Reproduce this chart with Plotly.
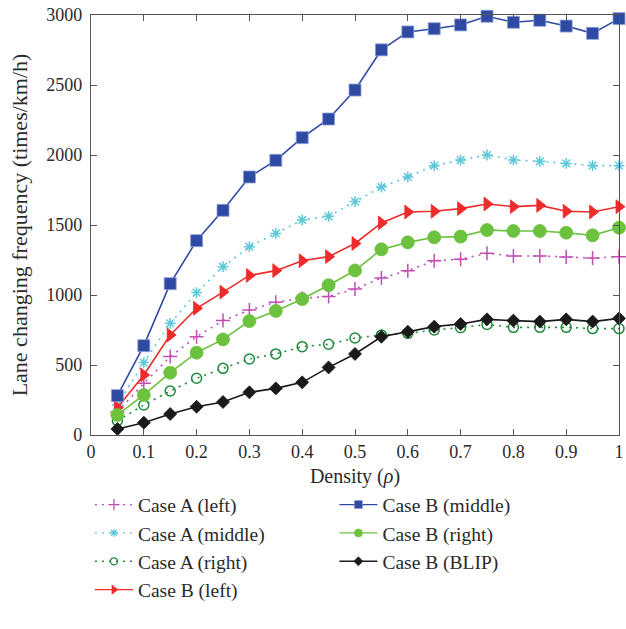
import plotly.graph_objects as go

density = [0.05, 0.1, 0.15, 0.2, 0.25, 0.3, 0.35, 0.4, 0.45, 0.5, 0.55, 0.6, 0.65, 0.7, 0.75, 0.8, 0.85, 0.9, 0.95, 1.0]

a_left = [165, 369, 560, 702, 817, 893, 948, 976, 990, 1043, 1121, 1174, 1245, 1255, 1298, 1279, 1279, 1271, 1264, 1274]
a_middle = [214, 517, 798, 1017, 1202, 1345, 1440, 1536, 1562, 1667, 1771, 1843, 1924, 1964, 2000, 1964, 1955, 1940, 1924, 1924]
a_right = [102, 214, 314, 405, 476, 543, 579, 631, 648, 693, 714, 726, 750, 767, 790, 769, 769, 769, 760, 760]
b_left = [195, 429, 714, 905, 1021, 1140, 1174, 1245, 1274, 1368, 1515, 1593, 1598, 1617, 1650, 1631, 1640, 1598, 1593, 1631]
b_middle = [281, 638, 1081, 1388, 1605, 1843, 1962, 2124, 2257, 2464, 2751, 2879, 2902, 2929, 2991, 2948, 2962, 2921, 2869, 2974]
b_right = [143, 286, 445, 588, 683, 814, 886, 971, 1070, 1175, 1326, 1376, 1412, 1417, 1464, 1457, 1457, 1445, 1426, 1481]
b_blip = [43, 88, 150, 202, 236, 305, 333, 376, 483, 579, 702, 738, 774, 793, 826, 817, 810, 826, 810, 833]

x_ticks = [0, 0.1, 0.2, 0.3, 0.4, 0.5, 0.6, 0.7, 0.8, 0.9, 1]
x_ticktext = ["0", "0.1", "0.2", "0.3", "0.4", "0.5", "0.6", "0.7", "0.8", "0.9", "1"]
y_ticks = [0, 500, 1000, 1500, 2000, 2500, 3000]

FONT = "Liberation Serif"
TXT = "#2a2a2a"
DOT = "2px,5px"

series = [
    ("Case A (left)", a_left, "#c04fb4", DOT, "cross-thin-open", 10, 8, "legend"),
    ("Case A (middle)", a_middle, "#5cc8da", DOT, "asterisk-open", 9, 7, "legend"),
    ("Case A (right)", a_right, "#1f8a3c", DOT, "circle-open", 10, 7, "legend"),
    ("Case B (left)", b_left, "#ee2b2b", "solid", "triangle-right", 12, 8, "legend"),
    ("Case B (middle)", b_middle, "#2f4aa2", "solid", "square", 12, 8, "legend2"),
    ("Case B (right)", b_right, "#6cc13f", "solid", "circle", 13, 8, "legend2"),
    ("Case B (BLIP)", b_blip, "#1a1a1a", "solid", "diamond", 10, 7, "legend2"),
]

fig = go.Figure()
for name, ys, color, dash, sym, size, lsize, leg in series:
    open_sym = sym.endswith("open")
    edge = "#8fa0d8" if name == "Case B (middle)" else color
    fig.add_trace(go.Scatter(
        x=density, y=ys, name=name, mode="lines+markers", showlegend=False,
        line=dict(color=color, width=1.6, dash=dash),
        marker=dict(symbol=sym, size=size, color=color,
                    line=dict(color=edge, width=(1.5 if open_sym else 0.8))),
        cliponaxis=False,
    ))
    # legend proxy with smaller symbol
    fig.add_trace(go.Scatter(
        x=[None], y=[None], name=name, mode="lines+markers", showlegend=True,
        line=dict(color=color, width=1.4, dash=dash),
        marker=dict(symbol=sym, size=lsize, color=color,
                    line=dict(color=edge, width=(1.3 if open_sym else 0.6))),
        legend=leg,
    ))

axis_common = dict(
    showline=True, linecolor="#555555", linewidth=1.2, mirror="ticks",
    ticks="inside", ticklen=6, tickcolor="#555555", showgrid=False, zeroline=False,
    tickfont=dict(family=FONT, size=18, color=TXT),
    ticklabeloverflow="allow",
)

leg_common = dict(yanchor="top", xanchor="left", itemwidth=38,
                  font=dict(family=FONT, size=19.5, color=TXT), bgcolor="rgba(0,0,0,0)",
                  tracegroupgap=0)

fig.update_layout(
    width=626, height=629,
    margin=dict(l=91, r=2, t=15, b=194),
    paper_bgcolor="white", plot_bgcolor="white",
    font=dict(family=FONT, size=18, color=TXT),
    xaxis=dict(range=[0, 1], tickvals=x_ticks, ticktext=x_ticktext,
               title=dict(text="Density (<i>ρ</i>)", font=dict(family=FONT, size=20, color=TXT), standoff=8),
               **axis_common),
    yaxis=dict(range=[0, 3000], tickvals=y_ticks, ticklabelstandoff=4,
               title=dict(text="Lane changing frequency (times/km/h)", font=dict(family=FONT, size=22, color=TXT), standoff=12),
               **axis_common),
    legend=dict(x=-0.002, y=-0.12, **leg_common),
    legend2=dict(x=0.461, y=-0.12, **leg_common),
    showlegend=True,
)

fig.write_html("out.html")
